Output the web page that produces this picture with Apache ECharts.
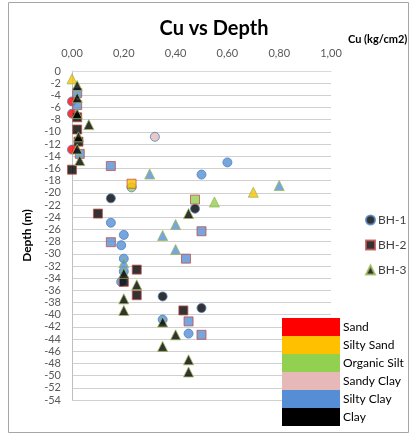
<!DOCTYPE html>
<html>
<head>
<meta charset="utf-8">
<script src="https://cdn.jsdelivr.net/npm/echarts@6/dist/echarts.min.js"></script>
<style>
html,body{margin:0;padding:0;background:#fff;}
#chart{width:411px;height:434px;}
</style>
</head>
<body>
<div id="chart"></div>
<script>
// Soil types and their colours
const soilTypes = ['Sand', 'Silty Sand', 'Organic Silt', 'Sandy Clay', 'Silty Clay', 'Clay'];
const soilColors = ['#FF0000', '#FFC000', '#92D050', '#E6B9B8', '#558ED5', '#000000'];

// Axis ticks
const xTicks = [0, 0.2, 0.4, 0.6, 0.8, 1.0];

// BH-1 (circles)
const bh1Cu    = [0.00, 0.00, 0.32, 0.00, 0.60, 0.50, 0.23, 0.15, 0.475, 0.15, 0.20, 0.19, 0.20, 0.20, 0.19, 0.35, 0.50, 0.35, 0.45];
const bh1Depth = [-5.0, -7.0, -10.8, -12.9, -15.0, -17.0, -19.1, -20.9, -22.6, -24.9, -26.9, -28.6, -30.8, -32.9, -34.6, -37.0, -38.9, -40.8, -43.1];
const bh1Soil  = ['Sand', 'Sand', 'Sandy Clay', 'Sand', 'Silty Clay', 'Silty Clay', 'Organic Silt', 'Clay', 'Clay', 'Silty Clay', 'Silty Clay', 'Silty Clay', 'Silty Clay', 'Silty Clay', 'Silty Clay', 'Clay', 'Clay', 'Silty Clay', 'Silty Clay'];

// BH-2 (squares)
const bh2Cu    = [0.02, 0.02, 0.02, 0.02, 0.025, 0.03, 0.15, 0.00, 0.23, 0.475, 0.10, 0.50, 0.15, 0.44, 0.25, 0.20, 0.25, 0.43, 0.45, 0.50];
const bh2Depth = [-3.6, -5.6, -7.6, -9.6, -11.6, -13.6, -15.6, -16.2, -18.5, -21.1, -23.4, -26.3, -28.1, -30.8, -32.6, -34.6, -36.8, -39.3, -41.1, -43.3];
const bh2Soil  = ['Silty Clay', 'Silty Clay', 'Clay', 'Clay', 'Clay', 'Silty Clay', 'Silty Clay', 'Clay', 'Silty Sand', 'Organic Silt', 'Clay', 'Silty Clay', 'Silty Clay', 'Silty Clay', 'Clay', 'Clay', 'Clay', 'Clay', 'Silty Clay', 'Silty Clay'];

// BH-3 (triangles)
const bh3Cu    = [0.00, 0.02, 0.02, 0.02, 0.065, 0.025, 0.02, 0.03, 0.30, 0.80, 0.70, 0.55, 0.45, 0.40, 0.35, 0.40, 0.20, 0.20, 0.25, 0.20, 0.20, 0.35, 0.40, 0.35, 0.45, 0.45];
const bh3Depth = [-1.3, -2.4, -4.4, -7.0, -8.8, -10.8, -12.8, -14.7, -16.9, -18.8, -19.9, -21.5, -23.4, -25.2, -27.0, -29.3, -31.5, -33.2, -35.1, -37.4, -39.3, -41.2, -43.3, -45.2, -47.4, -49.4];
const bh3Soil  = ['Silty Sand', 'Clay', 'Clay', 'Clay', 'Clay', 'Clay', 'Clay', 'Clay', 'Silty Clay', 'Silty Clay', 'Silty Sand', 'Organic Silt', 'Clay', 'Silty Clay', 'Silty Clay', 'Silty Clay', 'Silty Clay', 'Clay', 'Clay', 'Clay', 'Clay', 'Clay', 'Clay', 'Clay', 'Clay', 'Clay'];

const FONT = 'Lato, "Open Sans", sans-serif';

function colorOf(soil) { return soilColors[soilTypes.indexOf(soil)]; }
function buildData(cu, depth, soil) {
  return cu.map((v, i) => ({ value: [v, depth[i]], itemStyle: { color: colorOf(soil[i]) } }));
}

const chart = echarts.init(document.getElementById('chart'), null, { renderer: 'canvas' });

const legendGraphics = [];
soilTypes.forEach((s, i) => {
  legendGraphics.push({
    type: 'rect', shape: { x: 282, y: 318 + i * 18, width: 58, height: 18 },
    style: { fill: soilColors[i] }, z: 100
  });
  legendGraphics.push({
    type: 'text', x: 343, y: 327 + i * 18,
    style: { text: s, fill: '#000', font: '12px ' + FONT, textVerticalAlign: 'middle', verticalAlign: 'middle' }, z: 100
  });
});
legendGraphics.push({
  type: 'rect', shape: { x: 8.5, y: 2.5, width: 400, height: 430 },
  style: { fill: 'none', stroke: '#a6a6a6', lineWidth: 1 }, z: 0, silent: true
});

chart.setOption({
  backgroundColor: '#fff',
  animation: false,
  title: [
    { text: 'Cu vs Depth', left: 209, top: 14, textAlign: 'center',
      textStyle: { fontFamily: FONT, fontSize: 20, fontWeight: 'bold', color: '#000' } },
    { text: 'Cu (kg/cm2)', left: 343, top: 29,
      textStyle: { fontFamily: FONT, fontSize: 11, fontWeight: 'bold', color: '#000' } }
  ],
  legend: {
    orient: 'vertical', left: 360, top: 209, itemWidth: 9, itemHeight: 9, itemGap: 13,
    textStyle: { fontFamily: FONT, fontSize: 12, color: '#404040', padding: [0, 0, 0, -2] },
    data: [
      { name: 'BH-1', icon: 'circle' },
      { name: 'BH-2', icon: 'rect' },
      { name: 'BH-3', icon: 'triangle' }
    ]
  },
  grid: { left: 72, right: 80, top: 71, bottom: 34 },
  xAxis: {
    type: 'value', position: 'top', min: 0, max: 1, interval: 0.2,
    axisLine: { show: true, lineStyle: { color: '#d9d9d9' } },
    axisTick: { show: false },
    splitLine: { show: false },
    axisLabel: { margin: 12, fontFamily: FONT, fontSize: 11, color: '#595959',
      formatter: v => v.toFixed(2).replace('.', ',') }
  },
  yAxis: {
    type: 'value', min: -54, max: 0, interval: 2,
    name: 'Depth (m)', nameLocation: 'middle', nameRotate: 90, nameGap: 33,
    nameTextStyle: { fontFamily: FONT, fontSize: 12, fontWeight: 'bold', color: '#000' },
    axisLine: { show: true, onZero: false, lineStyle: { color: '#bfbfbf' } },
    axisTick: { show: false },
    splitLine: { show: true, lineStyle: { color: '#d0d0d0', width: 1 } },
    axisLabel: { margin: 11, fontFamily: FONT, fontSize: 11, color: '#595959' }
  },
  graphic: legendGraphics,
  series: [
    { name: 'BH-1', type: 'scatter', symbol: 'circle', symbolSize: 9,
      itemStyle: { color: '#000', borderColor: '#4F81BD', borderWidth: 1 },
      data: buildData(bh1Cu, bh1Depth, bh1Soil) },
    { name: 'BH-2', type: 'scatter', symbol: 'rect', symbolSize: 9,
      itemStyle: { color: '#000', borderColor: '#C0504D', borderWidth: 1 },
      data: buildData(bh2Cu, bh2Depth, bh2Soil) },
    { name: 'BH-3', type: 'scatter', symbol: 'triangle', symbolSize: 10,
      itemStyle: { color: '#000', borderColor: '#9BBB59', borderWidth: 1 },
      data: buildData(bh3Cu, bh3Depth, bh3Soil) }
  ]
});
</script>
</body>
</html>
